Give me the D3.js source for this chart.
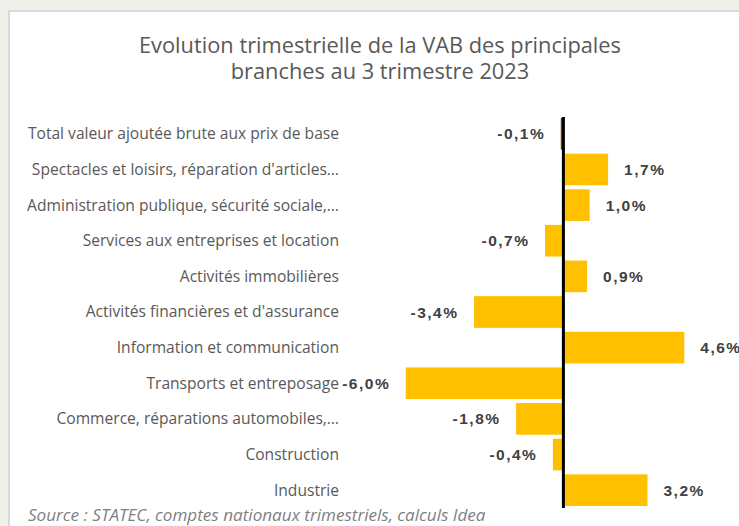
<!DOCTYPE html>
<html>
<head>
<meta charset="utf-8">
<script src="https://cdn.jsdelivr.net/npm/d3@7"></script>
<style>
  html, body { margin: 0; padding: 0; background: #f0f0eb; }
  svg { display: block; }
</style>
</head>
<body>
<svg id="chart" width="739" height="526"></svg>
<script>
// ── Data ──────────────────────────────────────────────────────────────────────

const TITLE_LINES = [
  'Evolution trimestrielle de la VAB des principales',
  'branches au 3 trimestre 2023',
];

const categories = [
  'Total valeur ajoutée brute aux prix de base',
  'Spectacles et loisirs, réparation d\'articles…',
  'Administration publique, sécurité sociale,…',
  'Services aux entreprises et location',
  'Activités immobilières',
  'Activités financières et d\'assurance',
  'Information et communication',
  'Transports et entreposage',
  'Commerce, réparations automobiles,…',
  'Construction',
  'Industrie',
];

const values = [-0.1, 1.7, 1.0, -0.7, 0.9, -3.4, 4.6, -6.0, -1.8, -0.4, 3.2];

const SOURCE = 'Source : STATEC, comptes nationaux trimestriels, calculs Idea';

// ── Layout ────────────────────────────────────────────────────────────────────

const W = 739, H = 526;
const PLOT = { left: 405.7, right: 684.3, top: 116, bottom: 508 };
const LABEL_RIGHT = 339;
const BAR_COLOR   = '#ffc000';
const TOTAL_COLOR = '#843c0c';
const FONT = '"Open Sans", Lato, sans-serif';
const VALUE_SPACING = 1.5;

const svg = d3.select('#chart');

// card with light border
svg.append('rect')
  .attr('x', 9).attr('y', 11)
  .attr('width', W).attr('height', H)
  .attr('fill', '#fff')
  .attr('stroke', '#d9d9d6')
  .attr('stroke-width', 2);

// title (two separate lines)
svg.append('g')
  .selectAll('text')
  .data(TITLE_LINES)
  .enter().append('text')
  .attr('x', 380)
  .attr('y', (d, i) => 53 + i * 25.5)
  .attr('text-anchor', 'middle')
  .attr('font-family', FONT)
  .attr('font-size', 21.8)
  .attr('fill', '#595959')
  .text(d => d);

// scales
const x = d3.scaleLinear()
  .domain(d3.extent(values))
  .range([PLOT.left, PLOT.right]);

const y = d3.scaleBand()
  .domain(categories)
  .range([PLOT.top, PLOT.bottom])
  .paddingInner(0.112)
  .paddingOuter(0.056);

const rows = categories.map((c, i) => ({ cat: c, v: values[i], i }));

// bars
svg.append('g')
  .selectAll('rect')
  .data(rows)
  .enter().append('rect')
  .attr('x', d => x(Math.min(0, d.v)))
  .attr('y', d => y(d.cat))
  .attr('width', d => Math.abs(x(d.v) - x(0)))
  .attr('height', y.bandwidth())
  .attr('fill', d => d.i === 0 ? TOTAL_COLOR : BAR_COLOR);

// zero axis
svg.append('line')
  .attr('x1', x(0)).attr('x2', x(0))
  .attr('y1', PLOT.top + 1).attr('y2', PLOT.bottom)
  .attr('stroke', '#000')
  .attr('stroke-width', 3);

// category labels
svg.append('g')
  .selectAll('text')
  .data(rows)
  .enter().append('text')
  .attr('x', LABEL_RIGHT)
  .attr('y', d => y(d.cat) + y.bandwidth() / 2)
  .attr('dy', '0.35em')
  .attr('text-anchor', 'end')
  .attr('font-family', FONT)
  .attr('font-size', 15.6)
  .attr('fill', '#595959')
  .text(d => d.cat);

// value labels
const fmt = v => v.toFixed(1).replace('.', ',') + '%';
svg.append('g')
  .selectAll('text')
  .data(rows)
  .enter().append('text')
  .attr('x', d => d.v < 0 ? x(d.v) - 17 + VALUE_SPACING : x(d.v) + 16)
  .attr('y', d => y(d.cat) + y.bandwidth() / 2)
  .attr('dy', '0.36em')
  .attr('text-anchor', d => d.v < 0 ? 'end' : 'start')
  .attr('font-family', '"Liberation Sans", Arial, sans-serif')
  .attr('font-weight', 'bold')
  .attr('font-size', 15.5)
  .attr('letter-spacing', VALUE_SPACING)
  .attr('fill', '#404040')
  .text(d => fmt(d.v));

// source note
svg.append('text')
  .attr('x', 28).attr('y', 521)
  .attr('font-family', FONT)
  .attr('font-style', 'italic')
  .attr('font-size', 17.1)
  .attr('fill', '#7f7f7f')
  .text(SOURCE);
</script>
</body>
</html>
